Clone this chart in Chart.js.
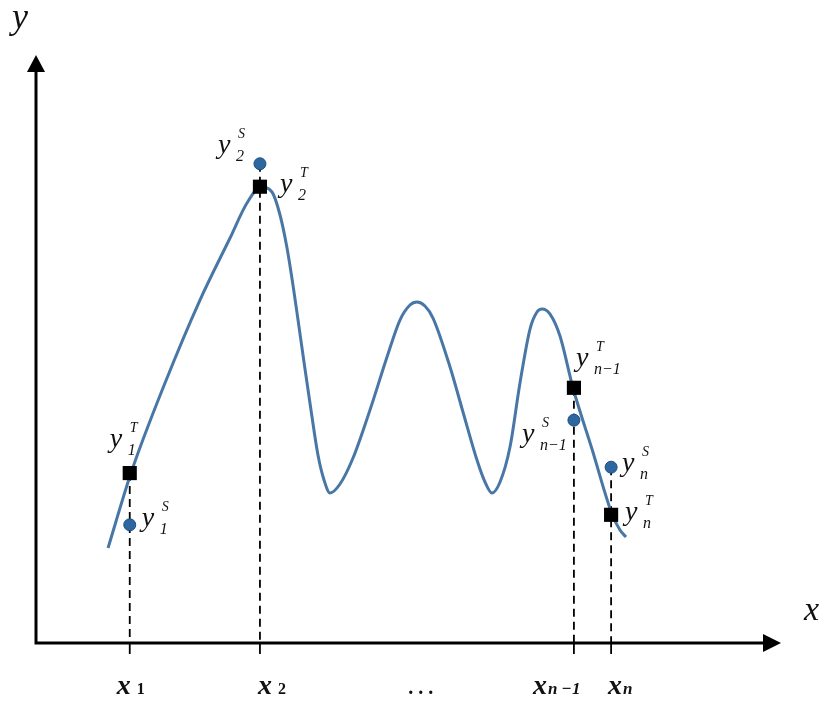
<!DOCTYPE html>
<html>
<head>
<meta charset="utf-8">
<script src="https://cdn.jsdelivr.net/npm/chart.js@4.4.1/dist/chart.umd.min.js"></script>
<style>
  html, body { margin: 0; padding: 0; background: #fff; }
  canvas { display: block; }
</style>
</head>
<body>
<canvas id="chart" width="822" height="704"></canvas>
<script>
// curve (arbitrary units, 0..100 on both axes)
const curveX = [9.68, 12.77, 17.34, 22.04, 26.08, 28.36, 30.24, 31.72, 32.80, 33.74, 34.54, 35.22, 36.02, 36.96, 37.90, 38.71, 39.52,
  40.86, 42.61, 44.89, 47.18, 48.92, 50.27, 51.21, 52.28, 53.36, 55.65, 57.39, 59.27, 60.35, 61.29,
  62.37, 63.71, 65.05, 66.40, 67.34, 68.01, 69.09, 70.43, 72.18, 74.73, 77.42, 78.49, 79.30];
const curveY = [16.16, 28.91, 44.22, 58.33, 68.88, 74.83, 77.55, 76.70, 72.79, 67.18, 60.88, 54.93, 47.79, 39.63, 31.97, 27.72, 25.51,
  27.04, 31.46, 39.63, 48.64, 54.93, 57.48, 57.99, 57.31, 55.27, 46.94, 39.29, 31.12, 27.38, 25.51,
  27.38, 33.33, 44.22, 53.40, 56.29, 56.80, 55.95, 52.21, 43.37, 32.99, 21.94, 19.22, 18.03];

// sample positions x1, x2, xn-1, xn
const sampleX = [12.6, 30.1, 72.3, 77.3];
const valuesT = [28.9, 77.6, 43.4, 21.8];   // squares
const valuesS = [20.1, 81.5, 37.9, 29.9];   // circles

const tickBase = ['x', 'x', '', 'x', 'x'];
const tickSub = ['1', '2', '. . .', 'n \u22121', 'n'];
const tickAt = [12.6, 30.1, 51.9, 72.3, 77.3];

const subT = ['1', '2', 'n\u22121', 'n'];
const subS = ['1', '2', 'n\u22121', 'n'];

// label layout, pixel offsets from the marker
const offT = [[-20, -26], [20, 5], [2, -22], [14, 5]];
const offS = [[12, 1], [-42, -11], [-52, 22], [11, 4]];
const tickLabelDx = [-13, -2, -14, -41, -3];

const serif = "'Liberation Serif', 'DejaVu Serif', serif";
const ink = '#111';

const diagram = {
  id: 'diagram',
  beforeDatasetsDraw(chart) {
    const { ctx, chartArea: a, scales: { x, y } } = chart;
    ctx.save();
    // dashed drops
    ctx.strokeStyle = '#000';
    ctx.lineWidth = 1.8;
    ctx.setLineDash([8, 5]);
    sampleX.forEach((v, i) => {
      const px = x.getPixelForValue(v);
      const top = y.getPixelForValue(Math.max(valuesT[i], valuesS[i]));
      ctx.beginPath();
      ctx.moveTo(px, top);
      ctx.lineTo(px, a.bottom);
      ctx.stroke();
    });
    ctx.setLineDash([]);
    // ticks
    sampleX.forEach(v => {
      const px = x.getPixelForValue(v);
      ctx.beginPath();
      ctx.moveTo(px, a.bottom);
      ctx.lineTo(px, a.bottom + 11);
      ctx.stroke();
    });
    // axes
    ctx.lineWidth = 3;
    ctx.beginPath();
    ctx.moveTo(a.left, a.top + 16);
    ctx.lineTo(a.left, a.bottom);
    ctx.lineTo(a.right - 17, a.bottom);
    ctx.stroke();
    ctx.fillStyle = '#000';
    ctx.beginPath();
    ctx.moveTo(a.left, a.top);
    ctx.lineTo(a.left - 9, a.top + 17);
    ctx.lineTo(a.left + 9, a.top + 17);
    ctx.closePath();
    ctx.fill();
    ctx.beginPath();
    ctx.moveTo(a.right + 1, a.bottom);
    ctx.lineTo(a.right - 17, a.bottom - 9);
    ctx.lineTo(a.right - 17, a.bottom + 9);
    ctx.closePath();
    ctx.fill();
    ctx.restore();
  },
  afterDatasetsDraw(chart) {
    const { ctx, chartArea: a, scales: { x, y } } = chart;
    ctx.save();
    ctx.fillStyle = ink;
    ctx.textBaseline = 'alphabetic';
    ctx.textAlign = 'left';

    const yLabel = (px, py, sup, sub) => {
      ctx.font = 'italic 28px ' + serif;
      ctx.fillText('y', px, py);
      ctx.font = 'italic 14px ' + serif;
      ctx.fillText(sup, px + 20, py - 15);
      ctx.font = 'italic 16px ' + serif;
      ctx.fillText(sub, px + 18, py + 8);
    };
    sampleX.forEach((v, i) => {
      const px = x.getPixelForValue(v);
      yLabel(px + offT[i][0], y.getPixelForValue(valuesT[i]) + offT[i][1], 'T', subT[i]);
      yLabel(px + offS[i][0], y.getPixelForValue(valuesS[i]) + offS[i][1], 'S', subS[i]);
    });

    // tick labels
    tickAt.forEach((v, i) => {
      let px = x.getPixelForValue(v) + tickLabelDx[i];
      const base = a.bottom + 51;
      if (tickBase[i]) {
        ctx.font = 'bold italic 28px ' + serif;
        ctx.fillText(tickBase[i], px, base);
        px += ctx.measureText(tickBase[i]).width + (i < 2 ? 6 : 1);
        ctx.font = (i < 2 ? 'bold 16px ' : 'bold italic 17px ') + serif;
        ctx.fillText(tickSub[i], px, base);
      } else {
        ctx.font = 'bold 20px ' + serif;
        ctx.fillText(tickSub[i], px, base);
      }
    });

    // axis names
    ctx.font = 'italic 36px ' + serif;
    ctx.fillText('y', a.left - 24, a.top - 27);
    ctx.font = 'italic 34px ' + serif;
    ctx.fillText('x', a.right + 24, a.bottom - 23);
    ctx.restore();
  }
};

new Chart(document.getElementById('chart'), {
  type: 'scatter',
  data: {
    datasets: [
      {
        data: curveX.map((v, i) => ({ x: v, y: curveY[i] })),
        showLine: true,
        borderColor: '#4877a6',
        borderWidth: 3,
        pointRadius: 0,
        cubicInterpolationMode: 'monotone',
        order: 3
      },
      {
        data: sampleX.map((v, i) => ({ x: v, y: valuesS[i] })),
        pointStyle: 'circle',
        pointRadius: 6,
        backgroundColor: '#2e66a0',
        borderColor: '#1d4f85',
        borderWidth: 1,
        order: 2
      },
      {
        data: sampleX.map((v, i) => ({ x: v, y: valuesT[i] })),
        pointStyle: 'rect',
        pointRadius: 10,
        backgroundColor: '#000',
        borderColor: '#000',
        borderWidth: 0,
        order: 1
      }
    ]
  },
  options: {
    responsive: false,
    animation: false,
    layout: { padding: { left: 36, right: 42, top: 55, bottom: 61 } },
    scales: {
      x: { type: 'linear', min: 0, max: 100, display: false },
      y: { type: 'linear', min: 0, max: 100, display: false }
    },
    plugins: { legend: { display: false }, tooltip: { enabled: false } }
  },
  plugins: [diagram]
});
</script>
</body>
</html>
